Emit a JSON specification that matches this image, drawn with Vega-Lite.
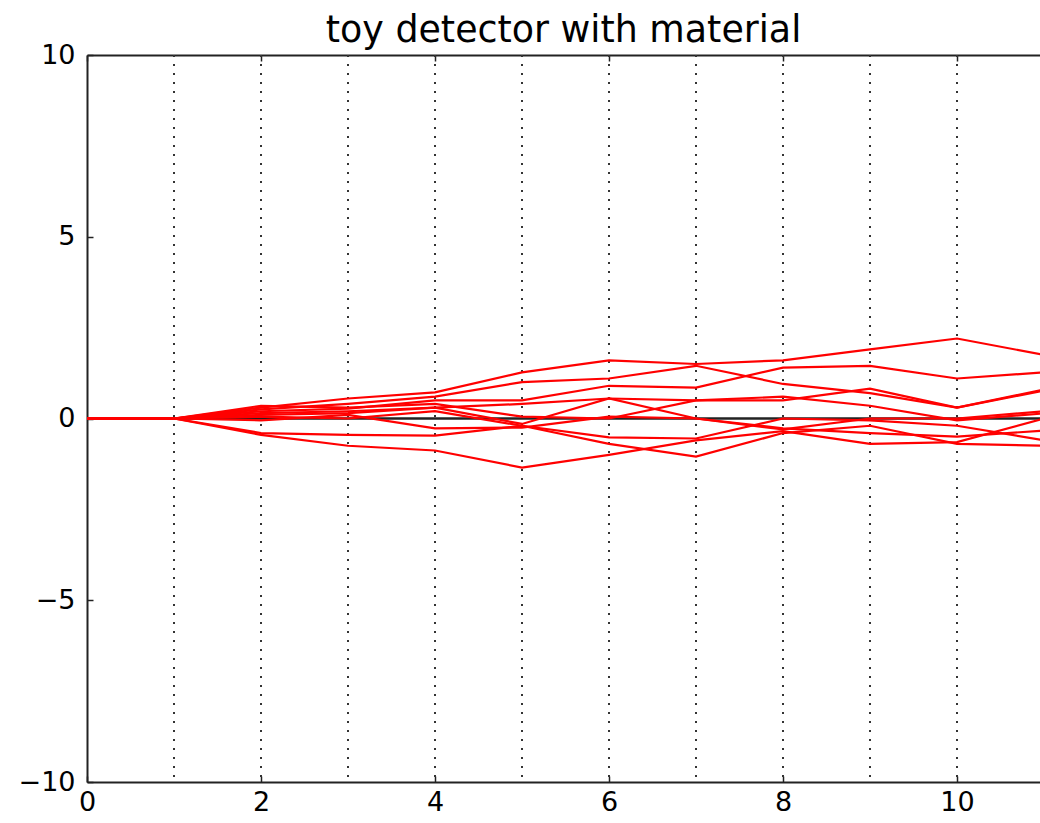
{
  "$schema": "https://vega.github.io/schema/vega-lite/v6.json",
  "width": 953,
  "height": 727,
  "autosize": {"type": "none"},
  "padding": {"left": 87, "top": 55, "right": 0, "bottom": 41},
  "background": "white",
  "title": {"text": "toy detector with material", "font": "DejaVu Sans", "fontSize": 36.4, "fontWeight": "normal", "color": "black", "anchor": "middle", "baseline": "alphabetic", "offset": 14, "dy": 51},
  "config": {
    "view": {"stroke": null},
    "axis": {"labelFont": "DejaVu Sans", "labelFontSize": 27, "labelColor": "black", "domainColor": "#222", "domainWidth": 2, "tickColor": "#222", "tickWidth": 1.5, "grid": false, "title": null}
  },
  "datasets": {
    "layers": [{"x": 1}, {"x": 2}, {"x": 3}, {"x": 4}, {"x": 5}, {"x": 6}, {"x": 7}, {"x": 8}, {"x": 9}, {"x": 10}],
    "truth": [{"x": 0, "y": 0}, {"x": 11, "y": 0}],
    "tracks": [
      {"track": "t1", "x": 0, "y": 0}, {"track": "t1", "x": 1, "y": 0}, {"track": "t1", "x": 2, "y": 0.3}, {"track": "t1", "x": 3, "y": 0.55}, {"track": "t1", "x": 4, "y": 0.72}, {"track": "t1", "x": 5, "y": 1.27}, {"track": "t1", "x": 6, "y": 1.6}, {"track": "t1", "x": 7, "y": 1.5}, {"track": "t1", "x": 8, "y": 1.6}, {"track": "t1", "x": 9, "y": 1.9}, {"track": "t1", "x": 10, "y": 2.2}, {"track": "t1", "x": 11, "y": 1.75},
      {"track": "t2", "x": 0, "y": 0}, {"track": "t2", "x": 1, "y": 0}, {"track": "t2", "x": 2, "y": 0.25}, {"track": "t2", "x": 3, "y": 0.4}, {"track": "t2", "x": 4, "y": 0.6}, {"track": "t2", "x": 5, "y": 1.0}, {"track": "t2", "x": 6, "y": 1.1}, {"track": "t2", "x": 7, "y": 1.45}, {"track": "t2", "x": 8, "y": 0.95}, {"track": "t2", "x": 9, "y": 0.7}, {"track": "t2", "x": 10, "y": 0.3}, {"track": "t2", "x": 11, "y": 0.8},
      {"track": "t3", "x": 0, "y": 0}, {"track": "t3", "x": 1, "y": 0}, {"track": "t3", "x": 2, "y": 0.2}, {"track": "t3", "x": 3, "y": 0.27}, {"track": "t3", "x": 4, "y": 0.5}, {"track": "t3", "x": 5, "y": 0.5}, {"track": "t3", "x": 6, "y": 0.9}, {"track": "t3", "x": 7, "y": 0.85}, {"track": "t3", "x": 8, "y": 1.4}, {"track": "t3", "x": 9, "y": 1.45}, {"track": "t3", "x": 10, "y": 1.1}, {"track": "t3", "x": 11, "y": 1.27},
      {"track": "t4", "x": 0, "y": 0}, {"track": "t4", "x": 1, "y": 0}, {"track": "t4", "x": 2, "y": 0.1}, {"track": "t4", "x": 3, "y": 0.15}, {"track": "t4", "x": 4, "y": 0.3}, {"track": "t4", "x": 5, "y": 0.4}, {"track": "t4", "x": 6, "y": 0.55}, {"track": "t4", "x": 7, "y": 0.5}, {"track": "t4", "x": 8, "y": 0.6}, {"track": "t4", "x": 9, "y": 0.35}, {"track": "t4", "x": 10, "y": -0.05}, {"track": "t4", "x": 11, "y": 0.14},
      {"track": "t5", "x": 0, "y": 0}, {"track": "t5", "x": 1, "y": 0}, {"track": "t5", "x": 2, "y": 0.35}, {"track": "t5", "x": 3, "y": 0.3}, {"track": "t5", "x": 4, "y": 0.4}, {"track": "t5", "x": 5, "y": 0.05}, {"track": "t5", "x": 6, "y": 0.0}, {"track": "t5", "x": 7, "y": 0.5}, {"track": "t5", "x": 8, "y": 0.5}, {"track": "t5", "x": 9, "y": 0.82}, {"track": "t5", "x": 10, "y": 0.3}, {"track": "t5", "x": 11, "y": 0.77},
      {"track": "t6", "x": 0, "y": 0}, {"track": "t6", "x": 1, "y": 0}, {"track": "t6", "x": 2, "y": 0.05}, {"track": "t6", "x": 3, "y": 0.0}, {"track": "t6", "x": 4, "y": 0.2}, {"track": "t6", "x": 5, "y": -0.2}, {"track": "t6", "x": 6, "y": -0.52}, {"track": "t6", "x": 7, "y": -0.55}, {"track": "t6", "x": 8, "y": 0.0}, {"track": "t6", "x": 9, "y": -0.05}, {"track": "t6", "x": 10, "y": -0.2}, {"track": "t6", "x": 11, "y": -0.6},
      {"track": "t7", "x": 0, "y": 0}, {"track": "t7", "x": 1, "y": 0}, {"track": "t7", "x": 2, "y": -0.05}, {"track": "t7", "x": 3, "y": 0.1}, {"track": "t7", "x": 4, "y": -0.27}, {"track": "t7", "x": 5, "y": -0.25}, {"track": "t7", "x": 6, "y": 0.05}, {"track": "t7", "x": 7, "y": 0.0}, {"track": "t7", "x": 8, "y": -0.27}, {"track": "t7", "x": 9, "y": -0.4}, {"track": "t7", "x": 10, "y": -0.5}, {"track": "t7", "x": 11, "y": -0.33},
      {"track": "t8", "x": 0, "y": 0}, {"track": "t8", "x": 1, "y": 0}, {"track": "t8", "x": 2, "y": -0.4}, {"track": "t8", "x": 3, "y": -0.45}, {"track": "t8", "x": 4, "y": -0.47}, {"track": "t8", "x": 5, "y": -0.2}, {"track": "t8", "x": 6, "y": -0.7}, {"track": "t8", "x": 7, "y": -1.05}, {"track": "t8", "x": 8, "y": -0.4}, {"track": "t8", "x": 9, "y": -0.2}, {"track": "t8", "x": 10, "y": -0.7}, {"track": "t8", "x": 11, "y": -0.75},
      {"track": "t9", "x": 0, "y": 0}, {"track": "t9", "x": 1, "y": 0}, {"track": "t9", "x": 2, "y": -0.45}, {"track": "t9", "x": 3, "y": -0.75}, {"track": "t9", "x": 4, "y": -0.88}, {"track": "t9", "x": 5, "y": -1.35}, {"track": "t9", "x": 6, "y": -1.0}, {"track": "t9", "x": 7, "y": -0.6}, {"track": "t9", "x": 8, "y": -0.35}, {"track": "t9", "x": 9, "y": -0.7}, {"track": "t9", "x": 10, "y": -0.65}, {"track": "t9", "x": 11, "y": 0.0},
      {"track": "t10", "x": 0, "y": 0}, {"track": "t10", "x": 1, "y": 0}, {"track": "t10", "x": 2, "y": 0.15}, {"track": "t10", "x": 3, "y": 0.2}, {"track": "t10", "x": 4, "y": 0.3}, {"track": "t10", "x": 5, "y": -0.15}, {"track": "t10", "x": 6, "y": 0.55}, {"track": "t10", "x": 7, "y": 0.0}, {"track": "t10", "x": 8, "y": -0.3}, {"track": "t10", "x": 9, "y": 0.0}, {"track": "t10", "x": 10, "y": 0.0}, {"track": "t10", "x": 11, "y": 0.2}
    ]
  },
  "resolve": {"axis": {"x": "independent", "y": "independent"}},
  "layer": [
    {
      "data": {"name": "layers"},
      "mark": {"type": "rule", "color": "#333", "strokeWidth": 2, "strokeDash": [2, 7], "clip": true},
      "encoding": {
        "x": {"field": "x", "type": "quantitative", "scale": {"domain": [0, 10.954], "nice": false, "zero": false},
              "axis": {"orient": "bottom", "values": [0, 2, 4, 6, 8, 10], "tickSize": -6, "labelPadding": 13, "labelFlush": false, "labelOverlap": false}}
      }
    },
    {
      "data": {"name": "truth"},
      "mark": {"type": "line", "color": "#222", "strokeWidth": 2.4, "clip": true},
      "encoding": {
        "x": {"field": "x", "type": "quantitative", "axis": {"orient": "top", "values": [0, 2, 4, 6, 8, 10], "tickSize": -6, "labels": false}},
        "y": {"field": "y", "type": "quantitative", "scale": {"domain": [-10, 10], "nice": false},
              "axis": {"orient": "left", "values": [-10, -5, 0, 5, 10], "tickSize": -6, "labelPadding": 18, "labelFlush": false, "labelOverlap": false,
                       "labelExpr": "datum.value < 0 ? '\u2212' + abs(datum.value) : '' + datum.value"}}
      }
    },
    {
      "data": {"name": "tracks"},
      "mark": {"type": "line", "color": "#ff0000", "strokeWidth": 2.2, "clip": true},
      "encoding": {
        "x": {"field": "x", "type": "quantitative", "axis": null},
        "y": {"field": "y", "type": "quantitative", "axis": null},
        "detail": {"field": "track"}
      }
    }
  ]
}
